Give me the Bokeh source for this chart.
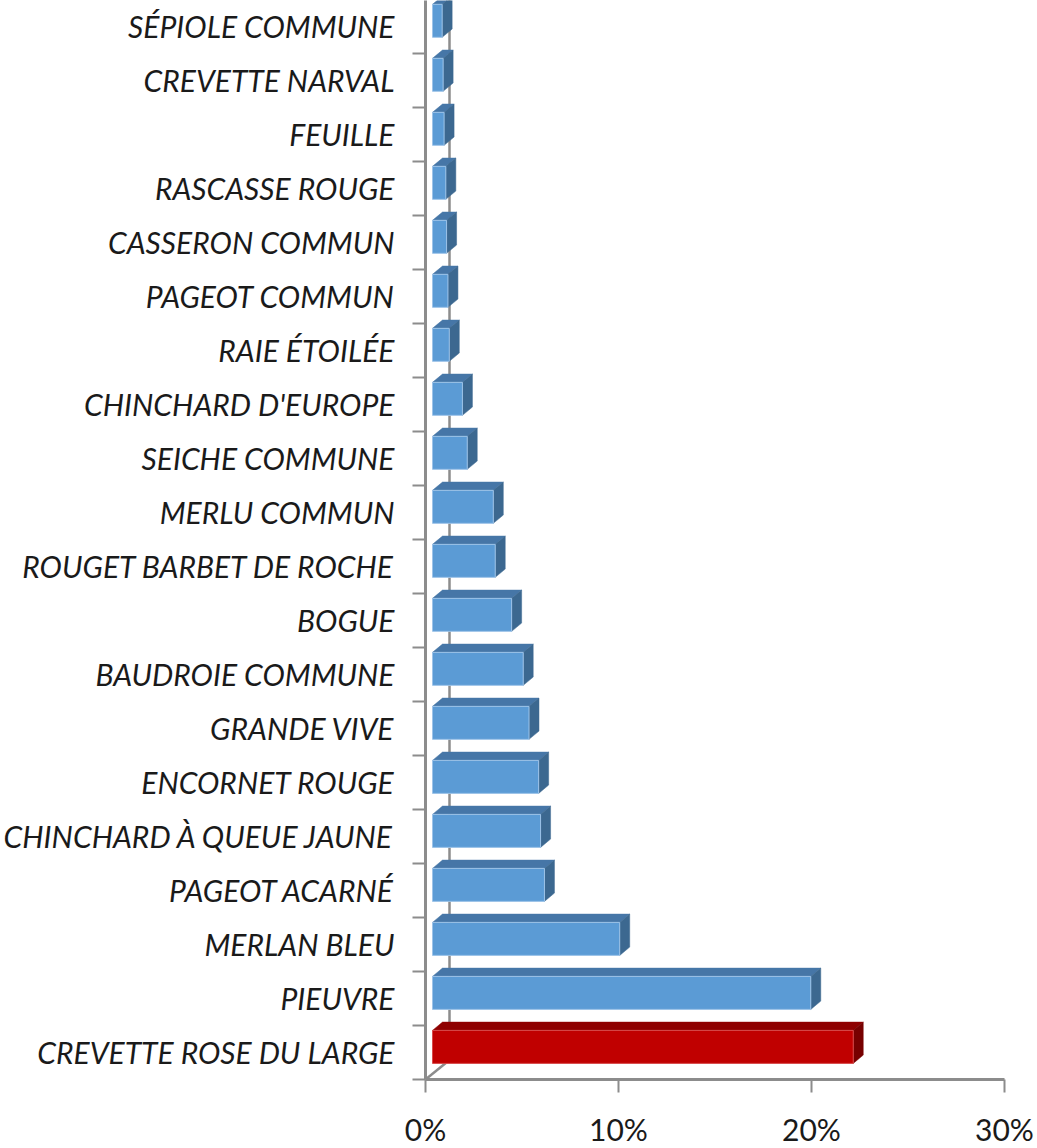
import numpy as np
from bokeh.plotting import figure
from bokeh.models import Range1d, FixedTicker, CustomJSTickFormatter
from bokeh.embed import file_html
from bokeh.resources import INLINE

# ---- data (bottom to top) ----
categories = ["CREVETTE ROSE DU LARGE", "PIEUVRE", "MERLAN BLEU", "PAGEOT ACARNÉ",
              "CHINCHARD À QUEUE JAUNE", "ENCORNET ROUGE", "GRANDE VIVE", "BAUDROIE COMMUNE",
              "BOGUE", "ROUGET BARBET DE ROCHE", "MERLU COMMUN", "SEICHE COMMUNE",
              "CHINCHARD D'EUROPE", "RAIE ÉTOILÉE", "PAGEOT COMMUN", "CASSERON COMMUN",
              "RASCASSE ROUGE", "FEUILLE", "CREVETTE NARVAL", "SÉPIOLE COMMUNE"]
values = [21.8, 19.6, 9.7, 5.8, 5.6, 5.5, 5.0, 4.7, 4.1, 3.25, 3.15, 1.8, 1.55,
          0.87, 0.8, 0.73, 0.69, 0.6, 0.55, 0.5]
x_ticks = [0, 10, 20, 30]

# ---- style / geometry ----
FW, FH = 579, 1079
XMAX, YMAX = 30, 19.98
PX = FW / XMAX      # px per x unit
PY = FH / YMAX      # px per y unit
ox, oy = 7 / PX, 5.6 / PY        # bar front plane offset
dx, dy = 10 / PX, 8.3 / PY       # bar depth
wx, wy = 24 / PX, 19.5 / PY      # back wall offset
h = 33 / PY                      # bar thickness

front_col = ["#C00000" if i == 0 else "#5B9BD5" for i in range(len(values))]
top_col = ["#8E0000" if i == 0 else "#4676A7" for i in range(len(values))]
side_col = ["#770000" if i == 0 else "#3C6890" for i in range(len(values))]
edge_col = ["#D84A4A" if i == 0 else "#9DC3E8" for i in range(len(values))]

v = np.array(values)
c = np.arange(len(values)) + 0.5
bot = c + oy - h / 2
top = c + oy + h / 2
left = np.full_like(v, ox)
right = ox + v

p = figure(frame_width=FW, frame_height=FH, x_range=Range1d(0, XMAX), y_range=Range1d(0, YMAX),
           output_backend="svg", toolbar_location=None,
           min_border_left=423, min_border_right=31, min_border_top=0, min_border_bottom=69)
p.outline_line_color = None
p.xgrid.visible = False
p.ygrid.visible = False
p.background_fill_color = "white"
p.border_fill_color = "white"

# back wall and floor edge
p.segment(x0=[wx, 0], y0=[wy, 0], x1=[wx, wx], y1=[YMAX + 1, wy], line_color="#8C8C8C", line_width=2.5)

# top faces
tx = [[l, r, r + dx, l + dx] for l, r in zip(left, right)]
ty = [[t, t, t + dy, t + dy] for t in top]
p.patches(tx, ty, fill_color=top_col, line_color=top_col, line_width=0.5)
# side faces
sx = [[r, r, r + dx, r + dx] for r in right]
sy = [[b, t, t + dy, b + dy] for b, t in zip(bot, top)]
p.patches(sx, sy, fill_color=side_col, line_color=side_col, line_width=0.5)
# front faces
p.quad(left=left, right=right, bottom=bot, top=top, fill_color=front_col,
       line_color=edge_col, line_width=1)

label_font = "Lato"
# y axis
ya = p.yaxis[0]
ya.ticker = FixedTicker(ticks=list(c), minor_ticks=list(range(0, 21)))
ya.formatter = CustomJSTickFormatter(args=dict(names=categories),
                                     code="return names[Math.floor(tick)];")
ya.axis_line_color = "#8C8C8C"
ya.axis_line_width = 3
ya.major_tick_line_color = None
ya.major_tick_out = 13
ya.major_tick_in = 0
ya.minor_tick_out = 13
ya.minor_tick_in = 0
ya.minor_tick_line_color = "#8C8C8C"
ya.minor_tick_line_width = 2
ya.major_label_standoff = 18
ya.major_label_text_font = label_font
ya.major_label_text_font_style = "italic"
ya.major_label_text_font_size = "30px"
ya.major_label_text_color = "#1A1A1A"

# x axis
xa = p.xaxis[0]
xa.ticker = FixedTicker(ticks=x_ticks, minor_ticks=[])
xa.formatter = CustomJSTickFormatter(code="return tick.toFixed(0) + '%';")
xa.axis_line_color = "#8C8C8C"
xa.axis_line_width = 3
xa.major_tick_line_color = "#8C8C8C"
xa.major_tick_line_width = 2
xa.major_tick_out = 13
xa.major_tick_in = 0
xa.minor_tick_line_color = None
xa.major_label_standoff = 18
xa.major_label_text_font = label_font
xa.major_label_text_font_size = "30px"
xa.major_label_text_color = "#1A1A1A"

open("out.html", "w").write(file_html(p, INLINE))
